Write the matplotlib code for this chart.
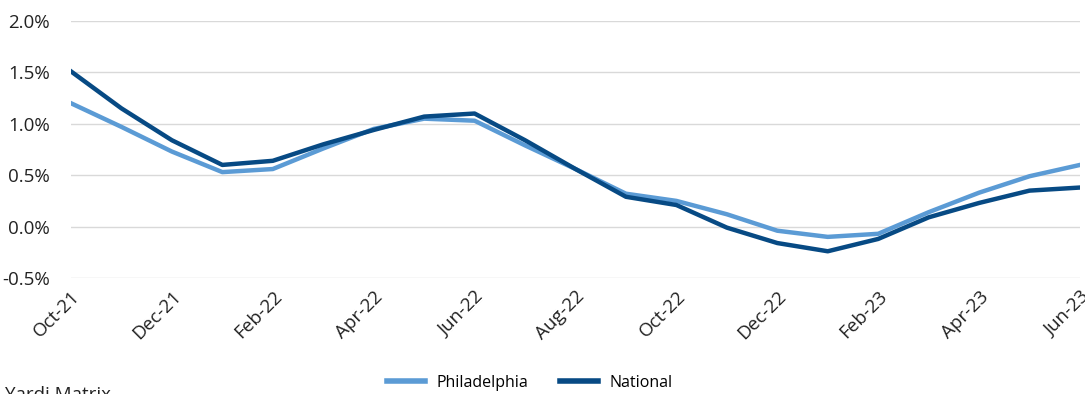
import matplotlib
matplotlib.use("Agg")
import matplotlib.pyplot as plt
from matplotlib.ticker import FuncFormatter, FixedLocator

months = ["Oct-21", "Nov-21", "Dec-21", "Jan-22", "Feb-22", "Mar-22", "Apr-22",
          "May-22", "Jun-22", "Jul-22", "Aug-22", "Sep-22", "Oct-22", "Nov-22",
          "Dec-22", "Jan-23", "Feb-23", "Mar-23", "Apr-23", "May-23", "Jun-23"]
philadelphia = [1.20, 0.97, 0.73, 0.53, 0.56, 0.76, 0.95, 1.05, 1.03, 0.79, 0.56,
                0.32, 0.25, 0.12, -0.04, -0.10, -0.07, 0.14, 0.33, 0.49, 0.60]
national = [1.51, 1.15, 0.84, 0.60, 0.64, 0.80, 0.94, 1.07, 1.10, 0.84, 0.56,
            0.29, 0.21, -0.01, -0.16, -0.24, -0.12, 0.09, 0.23, 0.35, 0.38]
yticks = [-0.5, 0.0, 0.5, 1.0, 1.5, 2.0]

plt.rcParams['font.family'] = ['Open Sans', 'DejaVu Sans']

fig = plt.figure(figsize=(10.85, 3.94), dpi=100)
ax = fig.add_axes([71/1085, (394-278)/394, (1080-71)/1085, (278-21)/394])

x = list(range(len(months)))
ax.plot(x, philadelphia, color="#5B9BD5", lw=3.2, label="Philadelphia", solid_joinstyle='round')
ax.plot(x, national, color="#074A84", lw=3.2, label="National", solid_joinstyle='round')

ax.set_xlim(0, len(months) - 1)
ax.set_ylim(-0.5, 2.0)
ax.yaxis.set_major_locator(FixedLocator(yticks))
ax.yaxis.set_major_formatter(FuncFormatter(lambda v, p: f"{v:.1f}%"))
ax.set_xticks(x[::2])
ax.set_xticklabels(months[::2], rotation=45, ha='right', rotation_mode='anchor')
ax.tick_params(axis='both', length=0, labelsize=13.5, colors="#222222")
ax.tick_params(axis='x', pad=7)
ax.tick_params(axis='y', pad=15)
ax.grid(axis='y', color="#D9D9D9", lw=1)
ax.set_axisbelow(True)
for s in ax.spines.values():
    s.set_visible(False)

leg = fig.legend(loc='center', bbox_to_anchor=(0.488, 0.028), ncol=2, frameon=False,
                 fontsize=11.5, handlelength=2.4, columnspacing=2.0, handletextpad=0.7)
for h in leg.get_lines():
    h.set_linewidth(4)
fig.text(5/1085, 1 - 386/394, "Yardi Matrix", fontsize=13.5, va='top', ha='left', color="#222222")

fig.savefig("out.png", dpi=100)
